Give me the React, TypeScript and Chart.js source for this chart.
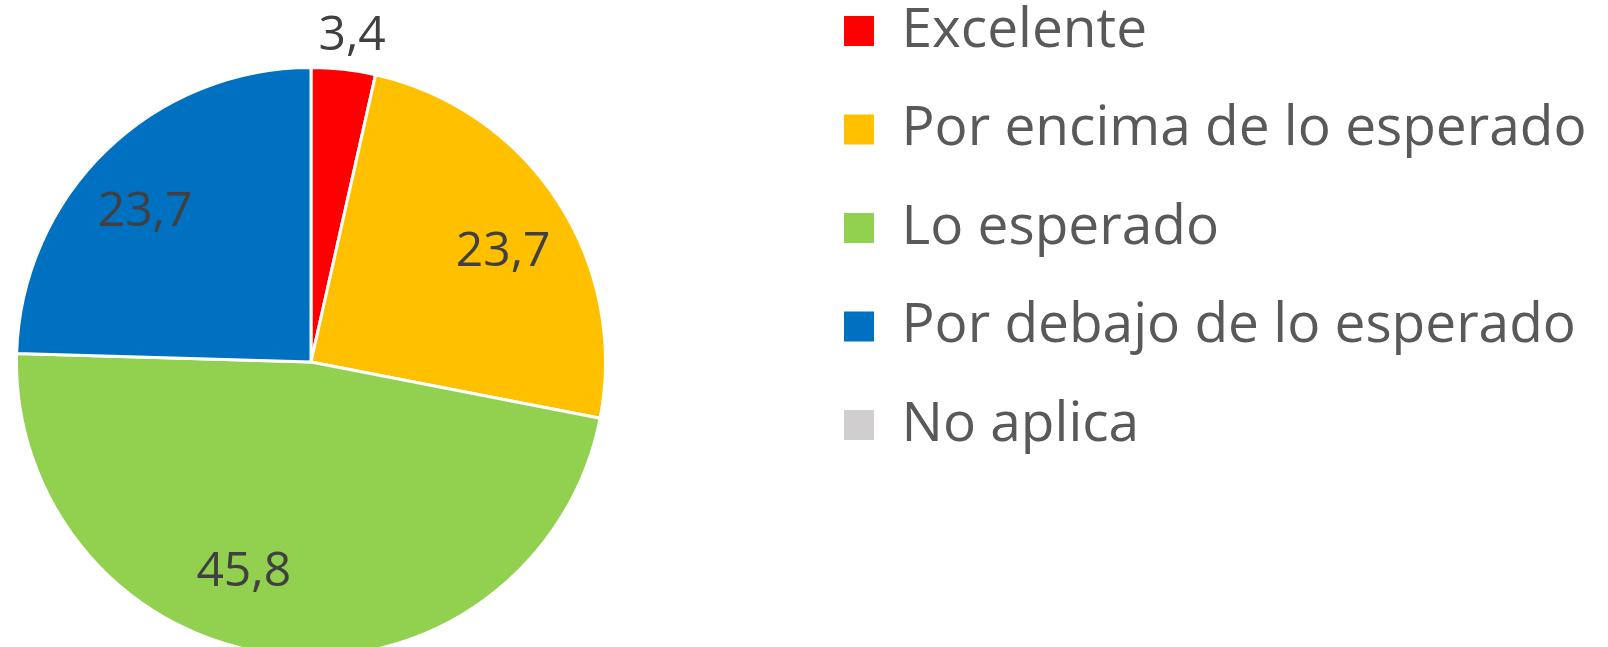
import React, { useEffect, useRef } from "react";
import { Chart, registerables } from "chart.js";

Chart.register(...registerables);

// ---- data ----
const categories = [
  "Excelente",
  "Por encima de lo esperado",
  "Lo esperado",
  "Por debajo de lo esperado",
  "No aplica",
];
const values = [3.4, 23.7, 45.8, 23.7, 0];
const colors = ["#FF0000", "#FFC000", "#92D050", "#0070C0", "#D0CECE"];

// ---- label placement styles (fraction of radius, angular shift in degrees) ----
const labelRadius = [1.125, 0.757, 0.737, 0.767, 0.75];
const labelAngleShift = [0.8, 2.7, 11.7, -3.1, 0];

// ---- layout ----
const W = 1608;
const H = 647;
const FONT = '"Open Sans", "Noto Sans", "Liberation Sans", sans-serif';
const LEGEND_SIZE = 55;
const VALUE_SIZE = 48;
const LEGEND_PAD = 43.5;
const BOX = 30;
const CX = 311;
const CY = 362;
const R = 294.5;
const LEGEND_BOX_X = 844;
const FIRST_ROW_Y = 31;

const fmt = (v: number) => v.toFixed(1).replace(".", ",");

// place the pie's area so its centre sits where the reference has it
const pieAreaPlugin = {
  id: "pieArea",
  afterLayout(chart: any) {
    const m = R + 6;
    const a = chart.chartArea;
    a.left = CX - m;
    a.right = CX + m;
    a.top = CY - m;
    a.bottom = CY + m;
    a.width = 2 * m;
    a.height = 2 * m;
  },
};

const valueLabelPlugin = {
  id: "valueLabels",
  afterDatasetsDraw(chart: any) {
    const ctx = chart.ctx;
    const meta = chart.getDatasetMeta(0);
    ctx.save();
    ctx.font = `${VALUE_SIZE}px ${FONT}`;
    ctx.fillStyle = "#404040";
    ctx.textAlign = "center";
    ctx.textBaseline = "alphabetic";
    meta.data.forEach((arc: any, i: number) => {
      if (!values[i]) return;
      const { x, y, startAngle, endAngle, outerRadius } = arc.getProps(
        ["x", "y", "startAngle", "endAngle", "outerRadius"],
        true
      );
      const mid = (startAngle + endAngle) / 2 + (labelAngleShift[i] * Math.PI) / 180;
      const r = outerRadius * labelRadius[i];
      const lx = x + Math.cos(mid) * r;
      const ly = y + Math.sin(mid) * r;
      ctx.fillText(fmt(values[i]), lx, ly + VALUE_SIZE * 0.357);
    });
    ctx.restore();
  },
};

export default function App() {
  const canvasRef = useRef<HTMLCanvasElement | null>(null);

  useEffect(() => {
    const canvas = canvasRef.current;
    if (!canvas) return;

    // measure the widest legend text to place the legend box
    const mctx = document.createElement("canvas").getContext("2d")!;
    mctx.font = `${LEGEND_SIZE}px ${FONT}`;
    const textW = Math.max(...categories.map((c) => mctx.measureText(c).width));

    const legendLeft = LEGEND_BOX_X - LEGEND_PAD;
    const padTop = FIRST_ROW_Y - LEGEND_PAD - LEGEND_SIZE / 2;
    const padBottom = H - (2 * CY - padTop);
    const padLeft = 2 * CX - legendLeft;
    const padRight = W - (LEGEND_BOX_X + BOX + LEGEND_SIZE / 2 + textW + 10);

    const chart = new Chart(canvas, {
      type: "pie",
      data: {
        labels: categories,
        datasets: [
          {
            data: values,
            backgroundColor: colors,
            borderColor: "#FFFFFF",
            borderWidth: 3,
            radius: R,
          } as any,
        ],
      },
      options: {
        responsive: false,
        animation: false,
        events: [],
        layout: {
          padding: { top: padTop, bottom: padBottom, left: padLeft, right: padRight },
        },
        plugins: {
          tooltip: { enabled: false },
          legend: {
            display: true,
            position: "right",
            align: "start",
            labels: {
              boxWidth: BOX,
              boxHeight: BOX,
              padding: LEGEND_PAD,
              color: "#595959",
              font: { family: FONT, size: LEGEND_SIZE },
              generateLabels: (ch: any) =>
                Chart.overrides.pie.plugins.legend.labels
                  .generateLabels(ch)
                  .map((it: any) => ({ ...it, lineWidth: 0, strokeStyle: "rgba(0,0,0,0)" })),
            },
          },
        },
      },
      plugins: [pieAreaPlugin, valueLabelPlugin],
    });

    return () => chart.destroy();
  }, []);

  return (
    <div style={{ position: "absolute", left: 0, top: 0, width: W, height: H, background: "#fff" }}>
      <canvas ref={canvasRef} width={W} height={H} style={{ display: "block" }} />
    </div>
  );
}
